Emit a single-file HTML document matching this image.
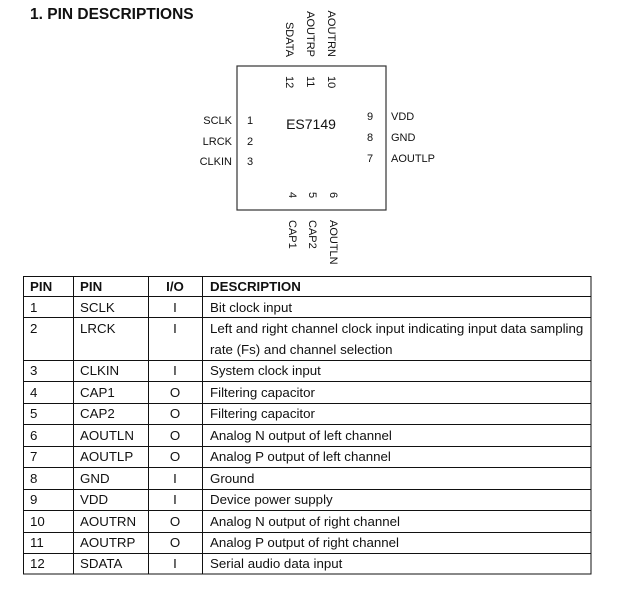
<!DOCTYPE html>
<html><head><meta charset="utf-8"><style>
html,body{margin:0;padding:0;background:#fff;}
svg{display:block;font-family:"Liberation Sans",Arial,sans-serif;}
</style></head><body>
<svg width="620" height="592" viewBox="0 0 620 592" xmlns="http://www.w3.org/2000/svg">
<text x="30" y="19" font-size="15.5" font-weight="bold" fill="#111">1. PIN DESCRIPTIONS</text>
<rect x="237" y="66" width="149" height="144" fill="none" stroke="#333" stroke-width="1.2"/>
<g font-size="11" fill="#111">
<text transform="translate(286,57) rotate(90)" text-anchor="end">SDATA</text>
<text transform="translate(307,57) rotate(90)" text-anchor="end">AOUTRP</text>
<text transform="translate(328,57) rotate(90)" text-anchor="end">AOUTRN</text>
<text transform="translate(286,76) rotate(90)">12</text>
<text transform="translate(307,76) rotate(90)">11</text>
<text transform="translate(328,76) rotate(90)">10</text>
<text transform="translate(289,192) rotate(90)">4</text>
<text transform="translate(309,192) rotate(90)">5</text>
<text transform="translate(330,192) rotate(90)">6</text>
<text transform="translate(289,220) rotate(90)">CAP1</text>
<text transform="translate(309,220) rotate(90)">CAP2</text>
<text transform="translate(330,220) rotate(90)">AOUTLN</text>
<text x="232" y="124" text-anchor="end">SCLK</text>
<text x="232" y="145" text-anchor="end">LRCK</text>
<text x="232" y="165" text-anchor="end">CLKIN</text>
<text x="247" y="124">1</text>
<text x="247" y="145">2</text>
<text x="247" y="165">3</text>
<text x="367" y="120">9</text>
<text x="367" y="141">8</text>
<text x="367" y="162">7</text>
<text x="391" y="120">VDD</text>
<text x="391" y="141">GND</text>
<text x="391" y="162">AOUTLP</text>
</g>
<text x="311" y="129" font-size="14" text-anchor="middle" fill="#111">ES7149</text>
<g stroke="#111" stroke-width="1" fill="none">
<rect x="23.5" y="276.5" width="567.5" height="297.5"/>
<line x1="73.5" y1="276" x2="73.5" y2="574"/>
<line x1="148.5" y1="276" x2="148.5" y2="574"/>
<line x1="202.5" y1="276" x2="202.5" y2="574"/>
<line x1="23" y1="296.5" x2="591" y2="296.5"/>
<line x1="23" y1="317.5" x2="591" y2="317.5"/>
<line x1="23" y1="360.5" x2="591" y2="360.5"/>
<line x1="23" y1="381.5" x2="591" y2="381.5"/>
<line x1="23" y1="403.5" x2="591" y2="403.5"/>
<line x1="23" y1="424.5" x2="591" y2="424.5"/>
<line x1="23" y1="446.5" x2="591" y2="446.5"/>
<line x1="23" y1="467.5" x2="591" y2="467.5"/>
<line x1="23" y1="489.5" x2="591" y2="489.5"/>
<line x1="23" y1="510.5" x2="591" y2="510.5"/>
<line x1="23" y1="532.5" x2="591" y2="532.5"/>
<line x1="23" y1="553.5" x2="591" y2="553.5"/>
</g>
<g font-size="13.3" fill="#111">
<g font-weight="bold">
<text x="30" y="291">PIN</text><text x="80" y="291">PIN</text><text x="175" y="291" text-anchor="middle">I/O</text><text x="210" y="291">DESCRIPTION</text>
</g>
<text x="30" y="312">1</text><text x="80" y="312">SCLK</text><text x="175" y="312" text-anchor="middle">I</text><text x="210" y="312">Bit clock input</text>
<text x="30" y="333">2</text><text x="80" y="333">LRCK</text><text x="175" y="333" text-anchor="middle">I</text><text x="210" y="333">Left and right channel clock input indicating input data sampling</text>
<text x="210" y="354">rate (Fs) and channel selection</text>
<text x="30" y="375">3</text><text x="80" y="375">CLKIN</text><text x="175" y="375" text-anchor="middle">I</text><text x="210" y="375">System clock input</text>
<text x="30" y="397">4</text><text x="80" y="397">CAP1</text><text x="175" y="397" text-anchor="middle">O</text><text x="210" y="397">Filtering capacitor</text>
<text x="30" y="418">5</text><text x="80" y="418">CAP2</text><text x="175" y="418" text-anchor="middle">O</text><text x="210" y="418">Filtering capacitor</text>
<text x="30" y="440">6</text><text x="80" y="440">AOUTLN</text><text x="175" y="440" text-anchor="middle">O</text><text x="210" y="440">Analog N output of left channel</text>
<text x="30" y="461">7</text><text x="80" y="461">AOUTLP</text><text x="175" y="461" text-anchor="middle">O</text><text x="210" y="461">Analog P output of left channel</text>
<text x="30" y="483">8</text><text x="80" y="483">GND</text><text x="175" y="483" text-anchor="middle">I</text><text x="210" y="483">Ground</text>
<text x="30" y="504">9</text><text x="80" y="504">VDD</text><text x="175" y="504" text-anchor="middle">I</text><text x="210" y="504">Device power supply</text>
<text x="30" y="526">10</text><text x="80" y="526">AOUTRN</text><text x="175" y="526" text-anchor="middle">O</text><text x="210" y="526">Analog N output of right channel</text>
<text x="30" y="547">11</text><text x="80" y="547">AOUTRP</text><text x="175" y="547" text-anchor="middle">O</text><text x="210" y="547">Analog P output of right channel</text>
<text x="30" y="568">12</text><text x="80" y="568">SDATA</text><text x="175" y="568" text-anchor="middle">I</text><text x="210" y="568">Serial audio data input</text>
</g>
</svg>
</body></html>
